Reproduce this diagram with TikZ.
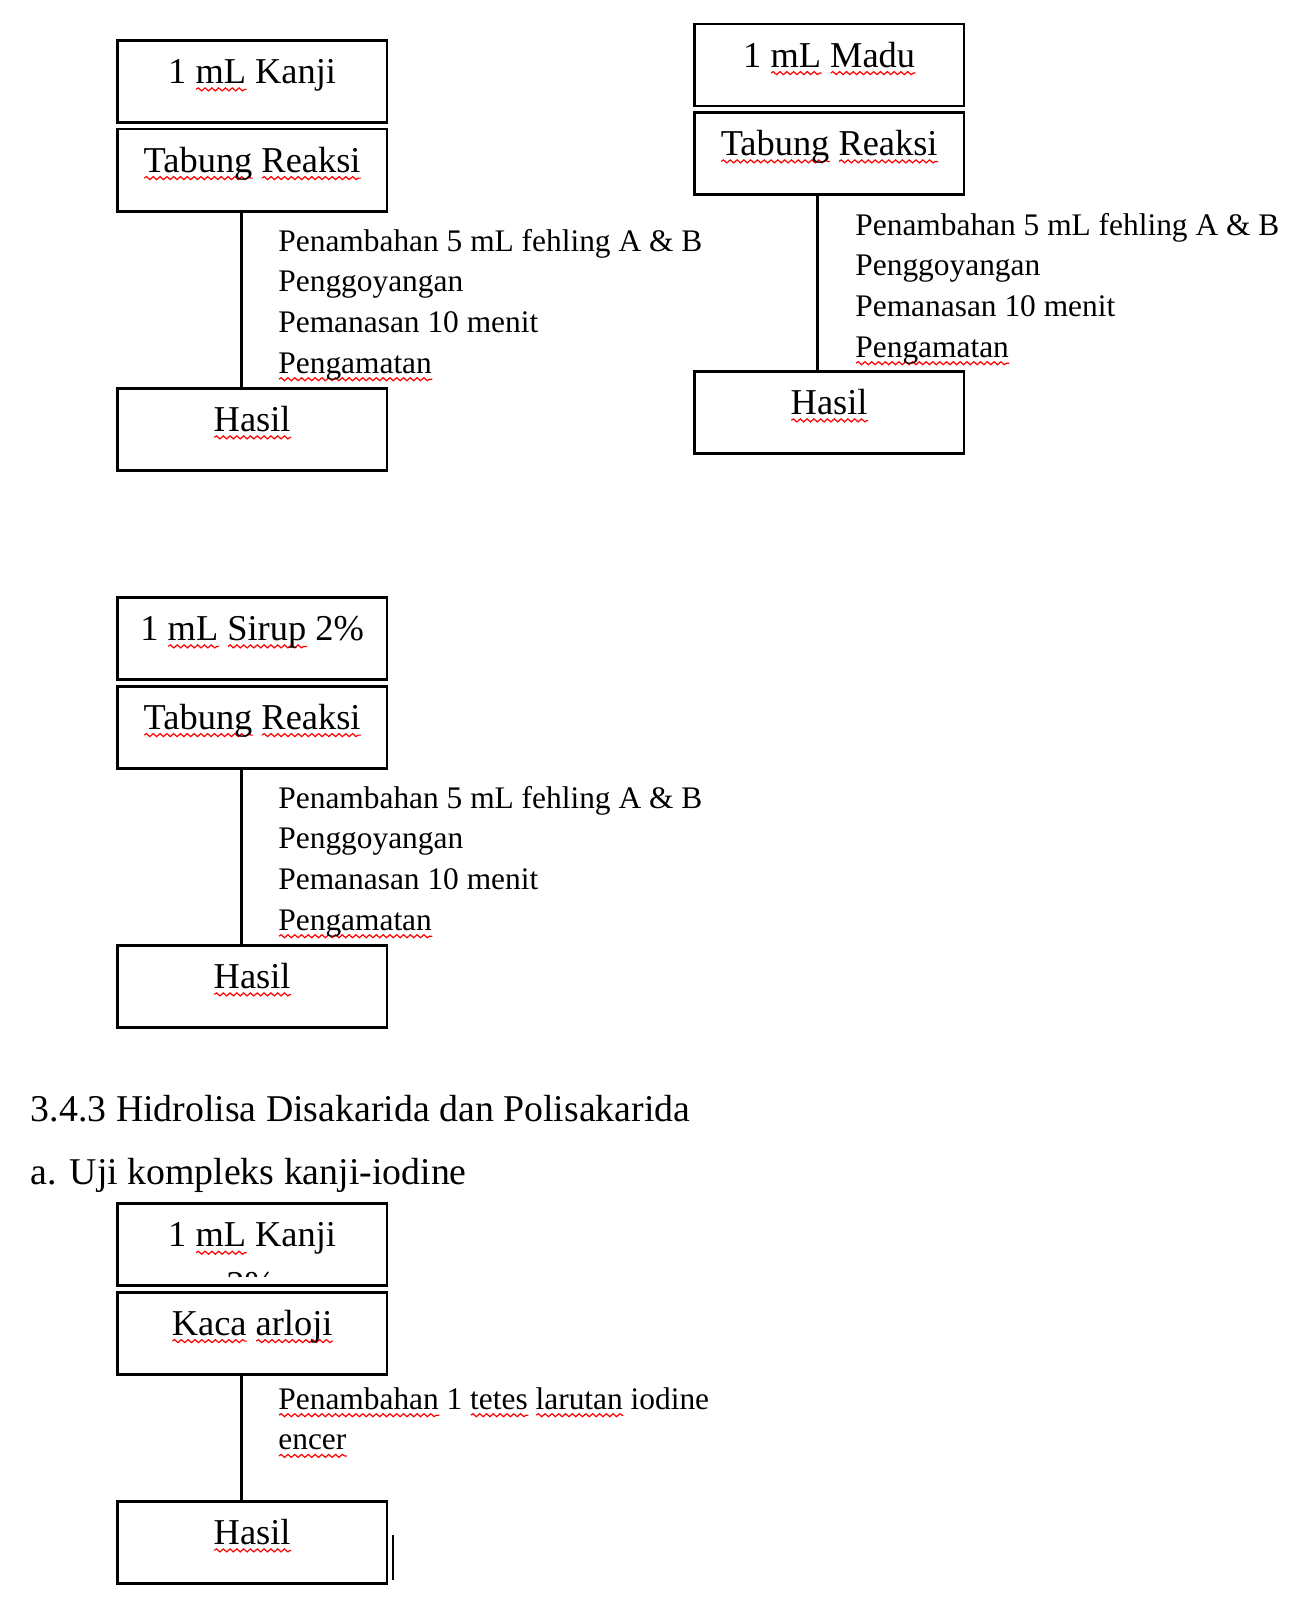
\documentclass[tikz,border=0pt]{standalone}
\usepackage{fontspec}
\setmainfont{Liberation Serif}
\usepackage{tikz}
\usetikzlibrary{decorations.pathmorphing}

\newsavebox{\kata}
\newcommand{\salah}[1]{\leavevmode\sbox{\kata}{#1}\rlap{\tikz[x=1pt, y=1pt, baseline=0pt]\draw[red, line width=0.6pt, decorate, decoration={snake, amplitude=0.75pt, segment length=3.4pt}] (0, -3pt) -- (\wd\kata, -3pt);}\usebox{\kata}}

\tikzset{
    kotak/.style={draw, line width=1.4pt, anchor=north west, minimum width=134.75pt, inner xsep=0pt, inner ysep=0pt, text height=21.5pt, text depth=19.5pt, font=\fontsize{18.2pt}{23pt}\selectfont},
    langkah/.style={anchor=north west, align=left, inner sep=0pt, font=\fontsize{15.7pt}{20.35pt}\selectfont},
    judul/.style={anchor=base west, inner sep=0pt, font=\fontsize{18.9pt}{23pt}\selectfont},
    alur/.style={line width=1.2pt}
}

\begin{document}
\begin{tikzpicture}[x=0.5pt, y=-0.5pt]
        \useasboundingbox (0, 0) rectangle (1290, 1600);

        \node[kotak] (kanji1) at (116, 39) {1 \salah{mL} Kanji};
        \node[kotak] (tabung1) at (116, 127.7) {\salah{Tabung} \salah{Reaksi}};
        \node[kotak] (hasil1) at (116, 387) {\salah{Hasil}};
        \draw[alur] ([xshift=-5.4pt]tabung1.south) -- ([xshift=-5.4pt]hasil1.north);
        \node[langkah] (proses1) at (278, 228.6) {Penambahan 5 mL fehling A \& B\\Penggoyangan\\Pemanasan 10 menit\\\salah{Pengamatan}};

        \node[kotak] (madu) at (693, 22.7) {1 \salah{mL} \salah{Madu}};
        \node[kotak] (tabung2) at (693, 111) {\salah{Tabung} \salah{Reaksi}};
        \node[kotak] (hasil2) at (693, 370) {\salah{Hasil}};
        \draw[alur] ([xshift=-5.8pt]tabung2.south) -- ([xshift=-5.8pt]hasil2.north);
        \node[langkah] (proses2) at (855, 212.6) {Penambahan 5 mL fehling A \& B\\Penggoyangan\\Pemanasan 10 menit\\\salah{Pengamatan}};

        \node[kotak] (sirup) at (116, 596) {1 \salah{mL} \salah{Sirup} 2\%};
        \node[kotak] (tabung3) at (116, 684.7) {\salah{Tabung} \salah{Reaksi}};
        \node[kotak] (hasil3) at (116, 944) {\salah{Hasil}};
        \draw[alur] ([xshift=-5.4pt]tabung3.south) -- ([xshift=-5.4pt]hasil3.north);
        \node[langkah] (proses3) at (278, 785.6) {Penambahan 5 mL fehling A \& B\\Penggoyangan\\Pemanasan 10 menit\\\salah{Pengamatan}};

        \node[judul] (subbab) at (30.6, 1121) {3.4.3 Hidrolisa Disakarida dan Polisakarida};
        \node[judul] (uji) at (30.6, 1184) {a. Uji kompleks kanji-iodine};

        \node[kotak] (kanji2) at (116, 1202.3) {1 \salah{mL} Kanji};
        \begin{scope}
            \clip (116, 1203) rectangle (385.5, 1276);
            \node[font=\fontsize{18.2pt}{23pt}\selectfont, anchor=base, inner sep=0pt] (sisa) at (250.75, 1296) {2\%};
        \end{scope}
        \node[kotak] (kaca) at (116, 1290.7) {\salah{Kaca} \salah{arloji}};
        \node[kotak] (hasil4) at (116, 1500) {\salah{Hasil}};
        \draw[alur] ([xshift=-5.4pt]kaca.south) -- ([xshift=-5.4pt]hasil4.north);
        \node[langkah] (proses4) at (278, 1387) {\salah{Penambahan} 1 \salah{tetes} \salah{larutan} iodine\\\salah{encer}};

        \draw[line width=1pt] (393, 1535) -- (393, 1580);
\end{tikzpicture}
\end{document}
